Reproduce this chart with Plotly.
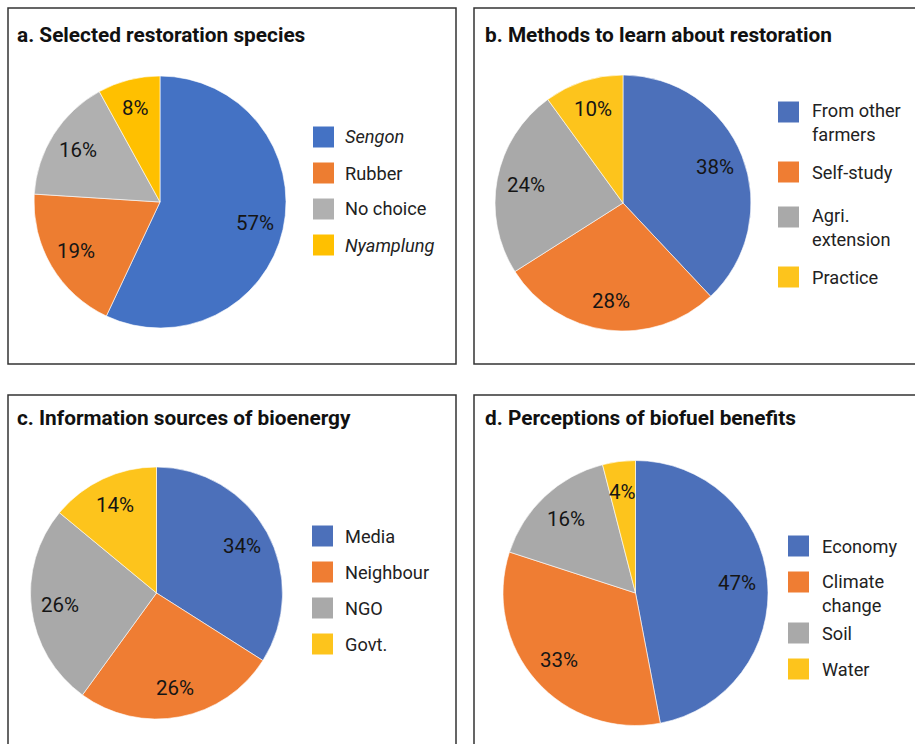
import math
import plotly.graph_objects as go

W, H = 915, 744

# ---------------- data ----------------
titles = [
    "a. Selected restoration species",
    "b. Methods to learn about restoration",
    "c. Information sources of bioenergy",
    "d. Perceptions of biofuel benefits",
]
labels_a = ["<i>Sengon</i>", "Rubber", "No choice", "<i>Nyamplung</i>"]
values_a = [57, 19, 16, 8]
labels_b = ["From other<br>farmers", "Self-study", "Agri.<br>extension", "Practice"]
values_b = [38, 28, 24, 10]
labels_c = ["Media", "Neighbour", "NGO", "Govt."]
values_c = [34, 26, 26, 14]
labels_d = ["Economy", "Climate<br>change", "Soil", "Water"]
values_d = [47, 33, 16, 4]

# ---------------- styling / layout ----------------
colors_flat = ["#4472C4", "#ED7D31", "#B0B0B0", "#FFC000"]
colors_grad = ["#4C70BA", "#EF7D33", "#A9A9A9", "#FDC41C"]
FONT = "Roboto"

panels = [
    dict(labels=labels_a, values=values_a, colors=colors_flat,
         cx=160, cy=202, r=126, box=(8, 8, 456, 364), title_xy=(17, 35),
         leg_x=313, leg_y=[137, 173, 209, 245], txt_x=345),
    dict(labels=labels_b, values=values_b, colors=colors_grad,
         cx=623, cy=203, r=128, box=(474, 8, 925, 364), title_xy=(485, 35),
         leg_x=778, leg_y=[112, 172, 217, 277], txt_x=812),
    dict(labels=labels_c, values=values_c, colors=colors_grad,
         cx=156.5, cy=593, r=126, box=(8, 395, 456, 760), title_xy=(17, 418),
         leg_x=312, leg_y=[536, 572, 608, 644], txt_x=345),
    dict(labels=labels_d, values=values_d, colors=colors_grad,
         cx=635.5, cy=593, r=132.5, box=(474, 395, 925, 760), title_xy=(485, 418),
         leg_x=788, leg_y=[546, 582, 633, 669], txt_x=822),
]

def px(x):
    return x / W

def py(y):
    return 1 - y / H

fig = go.Figure()
shapes = []
annotations = []
LABEL_FRAC = 0.77
SQ = 21
PAD = 2  # annotation inner padding compensation

for i, p in enumerate(panels):
    cx, cy, r = p["cx"], p["cy"], p["r"]
    fig.add_trace(go.Pie(
        labels=[l.replace("<br>", " ") for l in p["labels"]],
        values=p["values"],
        sort=False,
        direction="clockwise",
        rotation=0,
        marker=dict(colors=p["colors"], line=dict(color="white", width=0.6)),
        textinfo="none",
        hoverinfo="label+percent",
        showlegend=False,
        domain=dict(x=[px(cx - r), px(cx + r)], y=[py(cy + r), py(cy - r)]),
    ))
    # percentage labels computed from values along slice bisectors
    total = sum(p["values"])
    cum = 0
    for v in p["values"]:
        mid = (cum + v / 2) / total * 2 * math.pi
        cum += v
        lx = cx + LABEL_FRAC * r * math.sin(mid)
        ly = cy - LABEL_FRAC * r * math.cos(mid)
        annotations.append(dict(
            x=px(lx), y=py(ly), xref="paper", yref="paper",
            text=f"{round(v / total * 100)}%", showarrow=False,
            font=dict(family=FONT, size=20.5, color="#151515"),
            xanchor="center", yanchor="middle"))
    # panel box
    x0, y0, x1, y1 = p["box"]
    shapes.append(dict(type="rect", xref="paper", yref="paper",
                       x0=px(x0), x1=px(x1), y0=py(y1), y1=py(y0),
                       line=dict(color="#333333", width=1.5)))
    # title
    tx, ty = p["title_xy"]
    annotations.append(dict(
        x=px(tx - PAD), y=py(ty), xref="paper", yref="paper",
        text=f"<b>{titles[i]}</b>", showarrow=False,
        font=dict(family=FONT, size=20.8, color="#111111"),
        xanchor="left", yanchor="middle"))
    # legend
    for lab, col, ly in zip(p["labels"], p["colors"], p["leg_y"]):
        shapes.append(dict(type="rect", xref="paper", yref="paper",
                           x0=px(p["leg_x"]), x1=px(p["leg_x"] + SQ),
                           y0=py(ly + SQ / 2), y1=py(ly - SQ / 2),
                           fillcolor=col, line=dict(width=0)))
        nlines = lab.count("<br>") + 1
        annotations.append(dict(
            x=px(p["txt_x"] - PAD), y=py(ly + 11 * (nlines - 1)),
            xref="paper", yref="paper",
            text=lab, showarrow=False, align="left",
            font=dict(family=FONT, size=18.2, color="#222222"),
            xanchor="left", yanchor="middle"))

fig.update_layout(
    width=W, height=H, autosize=False,
    margin=dict(l=0, r=0, t=0, b=0),
    paper_bgcolor="white", plot_bgcolor="white",
    shapes=shapes, annotations=annotations,
    showlegend=False,
)

fig.write_html("out.html")
